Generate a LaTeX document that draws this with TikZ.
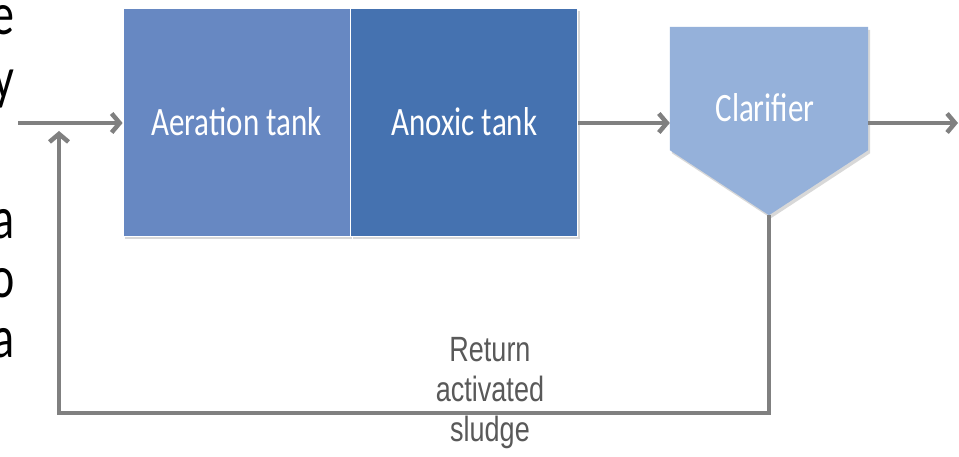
\documentclass[tikz,border=0pt]{standalone}
\usepackage{fontspec}
\setmainfont{Carlito}
\newfontfamily\arialfont{Liberation Sans}
\usepackage{graphicx}
\usetikzlibrary{arrows.meta,positioning,shadows,calc}
\definecolor{aerationblue}{RGB}{103,136,194}
\definecolor{anoxicblue}{RGB}{69,114,176}
\definecolor{clarifierblue}{RGB}{149,177,218}
\definecolor{flowgray}{RGB}{128,128,128}
\definecolor{labelgray}{RGB}{89,89,89}
\newcommand{\vstretch}[1]{\scalebox{1}[1.3]{#1}}

\begin{document}
\begin{tikzpicture}[
    x=1pt, y=-1pt,
    tank/.style={rectangle, draw=white, line width=0.8pt, minimum width=227pt, minimum height=228pt, inner sep=0pt, text=white, font=\fontsize{31}{36}\selectfont, drop shadow={shadow xshift=2pt, shadow yshift=-3pt, opacity=0.3}},
    flow/.style={draw=flowgray, line width=4.5pt, -{Straight Barb[length=8pt, width=19pt]}},
    edgetext/.style={anchor=base east, inner sep=0pt, font=\fontsize{46}{54}\selectfont}
]

% Frame
\clip (0,0) rectangle (959,457);
\fill[white] (0,0) rectangle (959,457);

% Cropped text at the left edge
\foreach \y/\ch in {35/e, 99/y, 239/a, 298/o, 357/a} {
    \node[edgetext] (edge\y) at (14.5,\y) {\vstretch{\ch}};
}

% Tanks
\node[tank, fill=aerationblue] (aeration) at (236.5,122) {\vstretch{Aeration tank}};
\node[tank, fill=anoxicblue, right=0pt of aeration] (anoxic) {\vstretch{Anoxic tank}};

% Clarifier
\node[rectangle, minimum width=198pt, minimum height=123pt, inner sep=0pt] (clarifier) at (769,88.5) {};
\coordinate (clartip) at ($(clarifier.south)+(0,65)$);
\path[fill=clarifierblue, drop shadow={shadow xshift=2pt, shadow yshift=-3pt, opacity=0.3}]
    (clarifier.north west) -- (clarifier.north east) -- (clarifier.south east)
    -- (clartip) -- (clarifier.south west) -- cycle;
\node[text=white, font=\fontsize{31}{36}\selectfont] (clarlabel) at (765,108) {\vstretch{Clarifier}};

% Flows
\coordinate (inlet) at (18,123);
\coordinate (outlet) at (958,123);
\coordinate (junction) at (59,123);
\coordinate (returncorner) at (59,413);
\draw[flow] (inlet) -- (inlet -| aeration.west);
\draw[flow] (anoxic.east |- inlet) -- (inlet -| clarifier.west);
\draw[flow] (clarifier.east |- inlet) -- (outlet);
\draw[flow] (clartip) |- (returncorner) -- ([yshift=-8pt]junction);

% Return label
\node[anchor=north, inner sep=0pt, align=center, text=labelgray, font=\arialfont\fontsize{27}{40}\selectfont] (returnlabel) at (490,337)
    {\vstretch{Return}\\\vstretch{activated}\\\vstretch{sludge}};

\end{tikzpicture}
\end{document}
